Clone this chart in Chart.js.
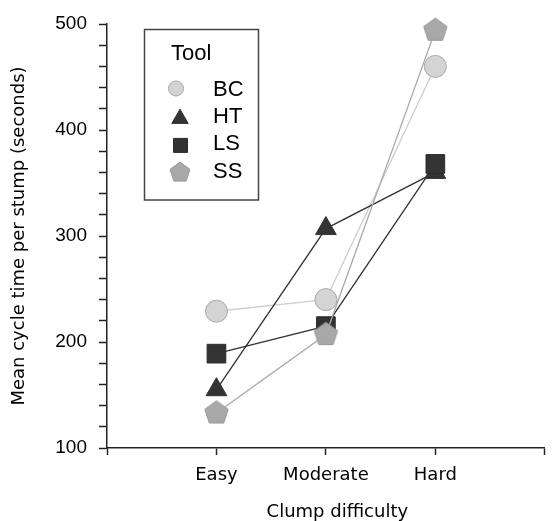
<!DOCTYPE html>
<html>
<head>
<meta charset="utf-8">
<script src="https://cdn.jsdelivr.net/npm/chart.js@4.4.1/dist/chart.umd.min.js"></script>
<style>
  html, body { margin: 0; padding: 0; background: #fff; overflow: hidden; }
  #wrap { position: relative; width: 559px; height: 521px; }
</style>
</head>
<body>
<div id="wrap"><canvas id="grafico"></canvas></div>
<script>
// dados
const categorias = ['Easy', 'Moderate', 'Hard'];
const ferramentas = ['BC', 'HT', 'LS', 'SS'];
const valoresBC = [229, 240, 460];
const valoresHT = [155, 307, 360];
const valoresLS = [189, 215, 368];
const valoresSS = [133, 207, 494];
const ticksY = [100, 200, 300, 400, 500];

const fonteArial = '"Liberation Sans", Arial, Helvetica, sans-serif';

// pentagono (o chart.js nao tem esse pointStyle)
function caminhoPentagono(ctx, x, y, r) {
  ctx.beginPath();
  for (let i = 0; i < 5; i++) {
    const a = -Math.PI / 2 + i * 2 * Math.PI / 5;
    const px = x + r * Math.cos(a);
    const py = y + r * Math.sin(a);
    if (i === 0) ctx.moveTo(px, py); else ctx.lineTo(px, py);
  }
  ctx.closePath();
}

function criarPentagono(raio, cor, borda) {
  const c = document.createElement('canvas');
  const lado = Math.ceil(raio * 2 + 2);
  c.width = lado;
  c.height = lado;
  const ctx = c.getContext('2d');
  caminhoPentagono(ctx, lado / 2, lado / 2, raio);
  ctx.fillStyle = cor;
  ctx.fill();
  ctx.strokeStyle = borda;
  ctx.lineWidth = 1;
  ctx.stroke();
  return c;
}

const pontos = valores => valores.map((v, i) => ({ x: i + 1, y: v }));

// legenda desenhada na mao, com caixa
const legendaTool = {
  id: 'legendaTool',
  afterDraw(chart) {
    const ctx = chart.ctx;
    ctx.save();
    ctx.strokeStyle = '#444';
    ctx.lineWidth = 1.5;
    ctx.strokeRect(144.5, 29.5, 114, 170.5);

    ctx.fillStyle = '#000';
    ctx.font = '22px ' + fonteArial;
    ctx.textBaseline = 'middle';
    ctx.textAlign = 'left';
    ctx.fillText('Tool', 171, 54);

    chart.data.datasets.forEach((ds, i) => {
      const y = 89.5 + i * 27.2;
      ctx.fillStyle = ds.pointBackgroundColor;
      ctx.strokeStyle = ds.pointBorderColor;
      ctx.lineWidth = 1;
      ctx.beginPath();
      if (ds.formaLegenda === 'circle') {
        ctx.arc(176, y - 1, 7.5, 0, Math.PI * 2);
      } else if (ds.formaLegenda === 'triangle') {
        const r = 9.5, cy = y + 2;
        ctx.moveTo(180, cy - r);
        ctx.lineTo(180 + r * Math.sin(Math.PI / 3), cy + r / 2);
        ctx.lineTo(180 - r * Math.sin(Math.PI / 3), cy + r / 2);
        ctx.closePath();
      } else if (ds.formaLegenda === 'rect') {
        ctx.rect(173.5, y - 5.5, 14, 14);
      } else {
        caminhoPentagono(ctx, 180, y + 1.5, 10.5);
      }
      ctx.fill();
      ctx.stroke();

      ctx.fillStyle = '#000';
      ctx.fillText(ds.label, 213, y + 0.5);
    });
    ctx.restore();
  }
};

const fonteEixo = { family: 'DejaVu Sans', size: 18 };

new Chart(document.getElementById('grafico'), {
  type: 'line',
  data: {
    datasets: [
      {
        label: ferramentas[0],
        data: pontos(valoresBC),
        borderColor: '#cfcfcf',
        borderWidth: 1.3,
        pointStyle: 'circle',
        pointRadius: 11,
        pointBackgroundColor: '#d4d4d4',
        pointBorderColor: '#a8a8a8',
        pointBorderWidth: 1,
        formaLegenda: 'circle',
        order: 4
      },
      {
        label: ferramentas[1],
        data: pontos(valoresHT),
        borderColor: '#333',
        borderWidth: 1.3,
        pointStyle: 'triangle',
        pointRadius: 12,
        pointBackgroundColor: '#333',
        pointBorderColor: '#333',
        pointBorderWidth: 1,
        formaLegenda: 'triangle',
        order: 3
      },
      {
        label: ferramentas[2],
        data: pontos(valoresLS),
        borderColor: '#333',
        borderWidth: 1.3,
        pointStyle: 'rect',
        pointRadius: 13.2,
        pointBackgroundColor: '#333',
        pointBorderColor: '#2a2a2a',
        pointBorderWidth: 1,
        formaLegenda: 'rect',
        order: 2
      },
      {
        label: ferramentas[3],
        data: pontos(valoresSS),
        borderColor: '#a8a8a8',
        borderWidth: 1.3,
        pointStyle: criarPentagono(12.3, '#a8a8a8', '#999'),
        pointRadius: 12,
        pointBackgroundColor: '#a8a8a8',
        pointBorderColor: '#999',
        formaLegenda: 'pentagon',
        order: 1
      }
    ]
  },
  options: {
    responsive: true,
    maintainAspectRatio: false,
    animation: false,
    events: [],
    elements: { line: { tension: 0 } },
    datasets: { line: { clip: false } },
    layout: { padding: { top: 24, right: 1, bottom: 0, left: 0 } },
    plugins: {
      legend: { display: false },
      tooltip: { enabled: false }
    },
    scales: {
      x: {
        type: 'linear',
        min: 0,
        max: 4,
        ticks: {
          stepSize: 1,
          autoSkip: false,
          maxRotation: 0,
          padding: 10,
          color: '#000',
          font: fonteEixo,
          callback: v => categorias[v - 1] || ''
        },
        grid: { drawOnChartArea: false, tickLength: 7, tickColor: '#222', tickWidth: 1.5 },
        border: { color: '#222', width: 1.5 },
        title: {
          display: true,
          text: '    Clump difficulty',
          color: '#000',
          font: fonteEixo,
          padding: { top: 0, bottom: -2 }
        },
        afterFit: s => { s.height = 73; }
      },
      y: {
        min: 100,
        max: 500,
        ticks: {
          stepSize: 20,
          autoSkip: false,
          maxTicksLimit: 50,
          padding: 12,
          color: '#000',
          font: { family: fonteArial, size: 19 },
          callback: v => ticksY.includes(v) ? v : ''
        },
        grid: { drawOnChartArea: false, tickLength: 8, tickColor: '#222', tickWidth: 1.5 },
        border: { color: '#222', width: 1.5 },
        title: {
          display: true,
          text: 'Mean cycle time per stump (seconds)',
          color: '#000',
          font: fonteEixo,
          padding: { top: 9, bottom: 0 }
        },
        afterFit: s => { s.width = 107; }
      }
    }
  },
  plugins: [legendaTool]
});
</script>
</body>
</html>
